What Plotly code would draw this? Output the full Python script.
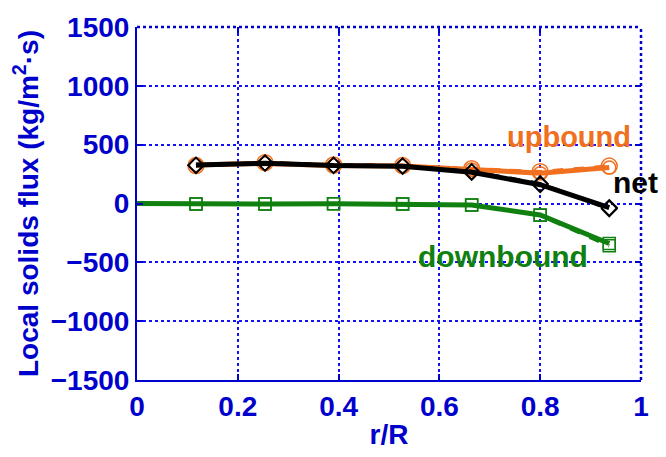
import plotly.graph_objects as go

r = [0.117, 0.254, 0.390, 0.527, 0.664, 0.800, 0.937]

up_solid = [327, 341, 322, 318, 290, 258, 305]
up_dash = [322, 347, 327, 322, 295, 270, 318]

net_solid = [327, 342, 322, 316, 265, 160, -35]
net_dash = [322, 346, 326, 320, 272, 168, -45]

down_r = [0.0, 0.117, 0.254, 0.390, 0.527, 0.664, 0.800, 0.937]
down_solid = [0, -5, -4, -3, -5, -12, -98, -340]
down_dash = [-5, -4, -3, -5, -12, -100, -360]

x_ticks = [0, 0.2, 0.4, 0.6, 0.8, 1]
x_tick_text = ["0", "0.2", "0.4", "0.6", "0.8", "1"]

ORANGE = "#F07020"
GREEN = "#108010"
BLUE = "#0000CC"
GRID = "#1010FF"
FONT = "Liberation Sans, Arial, sans-serif"

fig = go.Figure()

# downbound
fig.add_trace(go.Scatter(x=down_r, y=down_solid, mode="lines",
                         line=dict(color=GREEN, width=5), showlegend=False))
fig.add_trace(go.Scatter(x=r, y=down_dash, mode="lines+markers",
                         line=dict(color=GREEN, width=3.5, dash="dash"),
                         marker=dict(symbol="square-open", size=12, color=GREEN, line=dict(width=1.5)),
                         showlegend=False))
fig.add_trace(go.Scatter(x=r, y=down_solid[1:], mode="markers",
                         marker=dict(symbol="square-open", size=12, color=GREEN, line=dict(width=1.5)),
                         showlegend=False))

# upbound
fig.add_trace(go.Scatter(x=r, y=up_dash, mode="lines+markers",
                         line=dict(color=ORANGE, width=3.5, dash="dash"),
                         marker=dict(symbol="circle-open", size=16, color=ORANGE, line=dict(width=1.5)),
                         showlegend=False))
fig.add_trace(go.Scatter(x=r, y=up_solid, mode="lines+markers",
                         line=dict(color=ORANGE, width=5),
                         marker=dict(symbol="circle-open", size=13, color=ORANGE, line=dict(width=1.5)),
                         showlegend=False))

# net
fig.add_trace(go.Scatter(x=r, y=net_dash, mode="lines+markers",
                         line=dict(color="black", width=3.5, dash="dash"),
                         marker=dict(symbol="diamond-open", size=12, color="black", line=dict(width=1.5)),
                         showlegend=False))
fig.add_trace(go.Scatter(x=r, y=net_solid, mode="lines+markers",
                         line=dict(color="black", width=5),
                         marker=dict(symbol="diamond-open", size=12, color="black", line=dict(width=1.5)),
                         showlegend=False))

# invisible trace for mirrored tick axes
fig.add_trace(go.Scatter(x=[None], y=[None], xaxis="x2", yaxis="y2", showlegend=False,
                         hoverinfo="skip"))

axis_common = dict(
    showline=True, linecolor=BLUE, linewidth=2, mirror=False,
    ticks="inside", ticklen=6, tickcolor=BLUE, tickwidth=1.5,
    showgrid=True, gridcolor=GRID, gridwidth=1.5, griddash="dot",
    zeroline=False,
    tickfont=dict(family=FONT, size=28, color=BLUE, weight="bold"),
)

fig.update_layout(
    xaxis=dict(range=[0, 1], tickvals=x_ticks, ticktext=x_tick_text,
               title=dict(text="r/R", font=dict(family=FONT, size=28, color=BLUE, weight="bold"), standoff=4),
               **axis_common),
    yaxis=dict(range=[-1500, 1500], dtick=500,
               title=dict(text="Local solids flux (kg/m<sup>2</sup>·s)",
                          font=dict(family=FONT, size=28, color=BLUE, weight="bold"), standoff=4),
               **axis_common),
    xaxis2=dict(range=[0, 1], tickvals=x_ticks, overlaying="x", side="top", anchor="y2",
                ticks="inside", ticklen=6, tickcolor=BLUE, tickwidth=1.5,
                showticklabels=False, showgrid=False, zeroline=False, showline=False),
    yaxis2=dict(range=[-1500, 1500], dtick=500, overlaying="y", side="right", anchor="x2",
                ticks="inside", ticklen=6, tickcolor=BLUE, tickwidth=1.5,
                showticklabels=False, showgrid=False, zeroline=False, showline=False),
)

# dotted top and right frame edges
fig.add_shape(type="line", xref="paper", yref="paper", x0=0, x1=1, y0=1, y1=1,
              line=dict(color=BLUE, width=2.5, dash="dot"))
fig.add_shape(type="line", xref="paper", yref="paper", x0=1, x1=1, y0=0, y1=1,
              line=dict(color=BLUE, width=2.5, dash="dot"))

fig.add_annotation(x=0.857, y=568, text="upbound", showarrow=False, xref="x", yref="y",
                   font=dict(family=FONT, size=29, color=ORANGE, weight="bold"))
fig.add_annotation(x=0.99, y=180, text="net", showarrow=False, xref="x", yref="y",
                   font=dict(family=FONT, size=30, color="black", weight="bold"))
fig.add_annotation(x=0.727, y=-448, text="downbound", showarrow=False, xref="x", yref="y",
                   font=dict(family=FONT, size=30, color=GREEN, weight="bold"))

fig.update_layout(
    width=666, height=457,
    margin=dict(l=137, r=25, t=20, b=77),
    plot_bgcolor="white", paper_bgcolor="white",
    font=dict(family=FONT),
)

fig.write_html("out.html")
